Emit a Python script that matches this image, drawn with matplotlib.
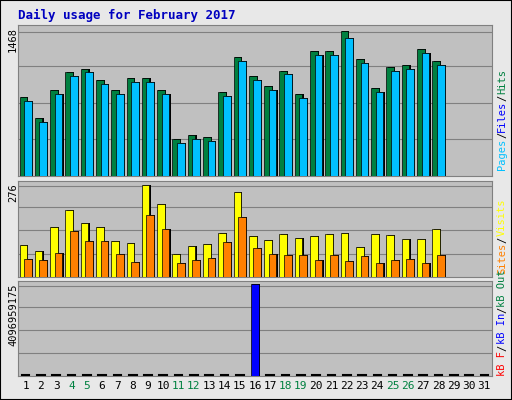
import matplotlib
matplotlib.use("Agg")
import matplotlib.pyplot as plt
import numpy as np

days = list(range(1, 32))
weekend = [4, 5, 11, 12, 18, 19, 25, 26]
hits = [791, 577, 861, 1037, 1076, 959, 861, 978, 978, 861, 372, 411, 392, 841, 1193, 998, 900, 1056, 822, 1252, 1252, 1448, 1174, 880, 1096, 1115, 1272, 1154]
files = [750, 538, 822, 998, 1037, 920, 822, 939, 939, 822, 333, 372, 352, 802, 1154, 959, 861, 1017, 783, 1213, 1213, 1380, 1135, 841, 1056, 1076, 1233, 1115]
visits = [95, 77, 148, 199, 160, 148, 107, 101, 273, 217, 68, 92, 98, 131, 252, 122, 110, 128, 116, 122, 128, 131, 89, 128, 125, 113, 113, 143]
sites = [53, 50, 71, 137, 107, 107, 68, 45, 184, 143, 42, 50, 56, 104, 178, 86, 68, 65, 65, 50, 65, 47, 62, 42, 50, 53, 42, 65]
kbf = [0]*15 + [4096959175] + [0]*12
ymax_top, ymax_mid, ymax_bot = 1468, 276, 4096959175

bg = "#e8e8e8"
panel = "#c0c0c0"
fig = plt.figure(figsize=(5.12, 4.0), dpi=100, facecolor=bg)
fig.patches.append(plt.Rectangle((0, 0), 1, 1, transform=fig.transFigure,
                                 fill=False, ec="black", lw=1.5))
L, W = 18/512, 474/512
axt = fig.add_axes([L, 0.56, W, 0.3775])
axm = fig.add_axes([L, 0.3075, W, 0.24])
axb = fig.add_axes([L, 0.06, W, 0.2375])
x = np.arange(1, 29)
for ax, top in [(axt, ymax_top), (axm, ymax_mid), (axb, ymax_bot)]:
    ax.set_facecolor(panel)
    ax.set_xlim(0.5, 31.5)
    ax.set_ylim(0, top*1.03)
    for f in (0.25, 0.5, 0.75, 1.0):
        ax.axhline(top*f*(0.98 if f == 1.0 else 1), color="#808080", lw=0.8, zorder=0)
    ax.set_yticks([])
    for s in ax.spines.values():
        s.set_color("#808080")
    ax.tick_params(axis="x", length=0)
    ax.set_xticks([])

def bars(ax, xs, vals, w, off, col):
    ax.bar(xs+off+0.08, vals, w, color="black", zorder=2)
    ax.bar(xs+off, vals, w, color=col, ec="black", lw=0.5, zorder=3)

bars(axt, x, hits, 0.5, -0.15, "#008040")
bars(axt, x, files, 0.5, 0.15, "#00c0ff")
bars(axm, x, visits, 0.5, -0.15, "#ffff00")
bars(axm, x, sites, 0.5, 0.15, "#ff8000")
bars(axb, x, kbf, 0.5, 0.0, "#0000ff")
for d in range(1, 32):
    if d > 28 or kbf[d-1] == 0:
        axb.plot([d-0.25, d+0.25], [ymax_bot*0.01]*2, color="black", lw=1.5, zorder=4)

axb.set_xticks(days)
axb.set_xticklabels([str(d) for d in days], fontsize=8, family="DejaVu Sans Mono")
for lab, d in zip(axb.get_xticklabels(), days):
    lab.set_color("#008040" if d in weekend else "black")

fig.text(18/512, 1-15/400, "Daily usage for February 2017", color="#0000c0",
         fontsize=9, fontweight="bold", family="DejaVu Sans Mono", va="center")
mono = dict(fontsize=7.5, family="DejaVu Sans Mono", rotation=90, va="top", ha="center")
fig.text(13/512, 1-27/400, "1468", **mono)
fig.text(13/512, 1-183/400, "276", **mono)
fig.text(13/512, 1-283/400, "4096959175", **mono)

CH = 6.3  # px per character

def rlabel(y_bottom_px, parts):
    y = 1 - y_bottom_px/400
    for txt, col in parts:
        fig.text(502/512, y, txt, color=col, fontsize=7.5, family="DejaVu Sans Mono",
                 rotation=90, va="bottom", ha="center")
        y += len(txt)*CH/400

rlabel(170, [("Pages", "#00c0ff"), ("/", "black"), ("Files", "#0000ff"), ("/", "black"), ("Hits", "#008040")])
rlabel(274, [("Sites", "#ff8000"), ("/", "black"), ("Visits", "#ffff00")])
rlabel(376, [("kB F", "#ff0000"), ("/", "black"), ("kB In", "#0000ff"), ("/", "black"), ("kB Out", "#008040")])

fig.savefig("out.png", dpi=100, facecolor=bg)
